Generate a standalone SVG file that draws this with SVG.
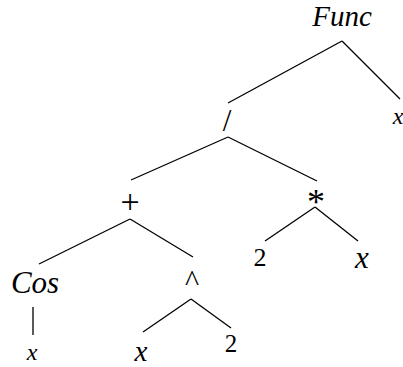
<svg xmlns="http://www.w3.org/2000/svg" width="403" height="367" viewBox="0 0 403 367">
<style>
text{font-family:"Liberation Serif","Times New Roman",serif;fill:#000;text-anchor:middle}
.i{font-style:italic}
.e line{stroke:#000;stroke-width:1.3;fill:none}
</style>
<rect width="403" height="367" fill="#fff"/>
<g class="e" id="connectors">
<line x1="342" y1="41" x2="228" y2="103"/>
<line x1="342" y1="41" x2="400" y2="99"/>
<line x1="228" y1="137" x2="131" y2="180"/>
<line x1="228" y1="137" x2="317" y2="181"/>
<line x1="130" y1="219" x2="39" y2="264"/>
<line x1="130" y1="219" x2="193" y2="257"/>
<line x1="315" y1="207" x2="265" y2="241"/>
<line x1="315" y1="207" x2="358" y2="241"/>
<line x1="33" y1="307" x2="33" y2="335"/>
<line x1="191" y1="299" x2="143" y2="332"/>
<line x1="191" y1="299" x2="231" y2="328"/>
</g>
<g id="n-func"><text class="i" x="342" y="26" font-size="29">Func</text></g>
<g id="n-x1"><text class="i" x="398" y="124" font-size="24">x</text></g>
<g id="n-div"><text x="227" y="131" font-size="31">/</text></g>
<g id="n-plus"><text x="130" y="213" font-size="34">+</text></g>
<g id="n-times"><text x="316" y="214" font-size="36">*</text></g>
<g id="n-2a"><text x="260" y="266" font-size="26">2</text></g>
<g id="n-x2"><text class="i" x="362" y="268" font-size="31">x</text></g>
<g id="n-cos"><text class="i" x="35" y="293" font-size="31">Cos</text></g>
<g id="n-pow"><text x="192" y="291" font-size="30">^</text></g>
<g id="n-x3"><text class="i" x="32" y="360" font-size="24">x</text></g>
<g id="n-x4"><text class="i" x="141" y="360.5" font-size="29">x</text></g>
<g id="n-2b"><text x="231" y="352" font-size="25">2</text></g>
</svg>
